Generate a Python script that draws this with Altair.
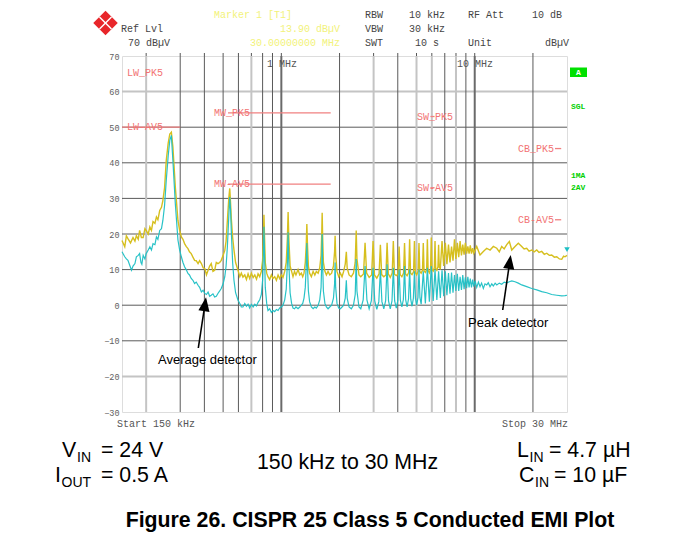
import altair as alt
import pandas as pd

MONO = "Liberation Mono"
SANS = "Liberation Sans"

# ---------------- data ----------------
# peak detector trace (MHz, dBuV)
peak_trace = [
    (0.150, 18.2), (0.155, 16.4), (0.158, 19.5), (0.161, 18.7), (0.166, 17.5), (0.171, 19.0),
    (0.175, 18.0), (0.178, 19.5), (0.182, 18.5), (0.185, 21.0), (0.189, 19.0), (0.193, 19.0),
    (0.197, 21.5), (0.200, 21.0), (0.205, 20.0), (0.209, 22.0), (0.213, 21.0), (0.217, 23.5),
    (0.222, 23.0), (0.226, 24.8), (0.230, 24.0), (0.235, 26.6), (0.240, 27.5), (0.244, 29.4),
    (0.249, 33.0), (0.254, 40.6), (0.260, 45.5), (0.265, 48.1), (0.270, 48.6), (0.275, 44.4),
    (0.283, 33.2), (0.292, 23.8), (0.298, 21.0), (0.304, 19.2), (0.310, 18.5), (0.316, 17.3),
    (0.322, 16.5), (0.329, 15.9), (0.335, 15.0), (0.342, 14.5), (0.349, 13.5), (0.356, 12.6),
    (0.363, 12.5), (0.371, 11.7), (0.378, 12.5), (0.386, 11.7), (0.394, 10.5), (0.402, 10.3),
    (0.410, 8.5), (0.418, 9.8), (0.426, 11.0), (0.434, 11.7), (0.443, 9.5), (0.452, 9.8),
    (0.461, 12.0), (0.470, 11.7), (0.480, 12.0), (0.489, 12.6), (0.500, 14.0), (0.510, 15.4),
    (0.518, 18.0), (0.526, 23.8), (0.535, 30.0), (0.541, 32.8), (0.546, 29.0), (0.551, 24.5),
    (0.560, 19.0), (0.569, 15.5), (0.580, 12.0), (0.597, 9.8), (0.610, 8.0), (0.621, 9.0),
    (0.633, 7.9), (0.647, 8.5), (0.660, 7.2), (0.673, 8.8), (0.686, 7.5), (0.700, 9.0),
    (0.715, 7.8), (0.729, 8.5), (0.744, 7.3), (0.758, 8.8), (0.773, 8.0), (0.788, 9.5),
    (0.800, 12.5), (0.808, 20.0), (0.813, 25.4), (0.818, 20.0), (0.826, 12.0), (0.840, 9.0),
    (0.853, 8.0), (0.870, 7.2), (0.888, 8.5), (0.905, 7.5), (0.924, 8.0), (0.943, 7.0),
    (0.962, 8.5), (0.980, 7.5), (1.000, 8.5), (1.020, 7.8), (1.041, 9.5), (1.060, 12.0),
    (1.075, 19.0), (1.084, 26.2), (1.093, 19.0), (1.110, 11.0), (1.130, 9.5), (1.149, 8.0),
    (1.170, 9.5), (1.190, 8.5), (1.220, 10.0), (1.245, 8.5), (1.269, 9.0), (1.290, 8.0),
    (1.310, 9.0), (1.330, 12.0), (1.345, 17.0), (1.355, 22.8), (1.365, 17.0), (1.380, 11.0),
    (1.400, 9.0), (1.430, 8.0), (1.460, 9.5), (1.490, 8.5), (1.517, 9.5), (1.550, 9.0),
    (1.580, 10.5), (1.605, 14.0), (1.618, 20.0), (1.626, 26.0), (1.634, 20.0), (1.650, 12.0),
    (1.680, 9.5), (1.710, 8.5), (1.744, 9.5), (1.780, 8.5), (1.820, 9.0), (1.860, 11.0),
    (1.885, 15.0), (1.897, 19.5), (1.910, 14.0), (1.940, 9.5), (1.980, 8.0), (2.020, 9.0),
    (2.060, 8.0), (2.100, 9.5), (2.140, 11.5), (2.168, 15.0), (2.190, 10.5), (2.240, 8.5),
    (2.300, 8.0), (2.360, 9.0), (2.410, 12.0), (2.439, 21.0), (2.460, 13.0), (2.520, 8.5),
    (2.575, 8.0),
    (2.660, 8.8), (2.710, 17.5), (2.760, 9.0), (2.845, 7.8),
    (2.931, 8.5), (2.981, 18.0), (3.031, 8.5), (3.116, 7.6),
    (3.202, 8.8), (3.252, 17.0), (3.302, 8.6), (3.387, 8.0),
    (3.473, 8.5), (3.523, 17.5), (3.573, 8.8), (3.658, 7.8),
    (3.744, 9.0), (3.794, 18.0), (3.844, 8.7), (3.930, 8.3),
    (4.015, 8.8), (4.065, 16.5), (4.115, 8.6), (4.200, 8.0),
    (4.286, 9.0), (4.336, 17.5), (4.386, 8.8), (4.470, 8.3),
    (4.557, 9.2), (4.607, 18.5), (4.657, 9.0), (4.740, 8.6),
    (4.828, 9.4), (4.878, 18.0), (4.928, 9.2), (5.010, 8.5),
    (5.099, 9.6), (5.149, 17.5), (5.199, 9.5), (5.285, 9.0),
    (5.370, 9.8), (5.420, 17.5), (5.470, 9.6), (5.555, 9.2),
    (5.641, 10.0), (5.691, 18.5), (5.741, 9.8), (5.826, 9.1),
    (5.912, 10.2), (5.962, 19.0), (6.012, 10.0), (6.100, 9.6),
    (6.183, 10.5), (6.233, 18.0), (6.283, 10.3), (6.370, 9.8),
    (6.454, 10.8), (6.504, 17.0), (6.554, 10.6), (6.640, 10.3),
    (6.775, 18.0), (6.910, 11.0), (7.046, 17.5), (7.180, 11.5), (7.317, 17.0), (7.450, 12.0),
    (7.588, 16.5), (7.720, 12.5), (7.859, 18.5), (7.990, 13.0), (8.130, 17.5), (8.265, 13.5),
    (8.401, 18.0), (8.540, 14.0), (8.672, 17.0), (8.810, 14.2), (8.943, 17.5), (9.080, 14.5),
    (9.214, 16.5), (9.350, 14.5), (9.485, 16.8), (9.620, 14.5), (9.756, 16.0), (9.890, 14.6),
    (10.24, 16.5), (10.65, 14.1), (11.08, 15.1), (11.53, 16.0), (12.00, 15.5), (12.48, 16.5),
    (13.00, 16.0), (13.40, 15.0), (13.79, 16.5), (14.20, 15.8), (14.64, 17.0), (15.10, 17.9),
    (15.54, 15.5), (16.16, 16.5), (16.80, 17.4), (17.50, 16.5), (18.00, 15.8), (18.57, 16.0),
    (19.10, 15.2), (19.71, 15.5), (20.30, 15.0), (20.93, 15.5), (21.50, 14.8), (22.20, 15.1),
    (22.90, 14.3), (23.57, 14.6), (24.30, 14.0), (25.00, 14.1), (25.80, 13.5), (26.55, 13.6),
    (27.40, 13.0), (28.18, 12.9), (28.80, 13.8), (29.30, 13.6), (30.00, 14.0),
]

# average detector trace (MHz, dBuV)
average_trace = [
    (0.150, 15.0), (0.155, 13.6), (0.158, 13.0), (0.161, 12.6), (0.165, 11.0), (0.168, 9.8),
    (0.171, 11.0), (0.175, 11.7), (0.178, 13.6), (0.182, 14.0), (0.185, 14.5), (0.188, 12.0),
    (0.190, 11.5), (0.193, 14.0), (0.197, 13.0), (0.200, 14.5), (0.205, 15.5), (0.209, 16.4),
    (0.213, 15.5), (0.217, 17.3), (0.222, 17.0), (0.226, 19.2), (0.230, 18.5), (0.235, 21.0),
    (0.240, 21.5), (0.244, 23.8), (0.249, 28.0), (0.254, 35.0), (0.260, 42.0), (0.265, 46.3),
    (0.270, 47.7), (0.275, 40.6), (0.283, 28.5), (0.292, 18.3), (0.298, 15.5), (0.304, 13.6),
    (0.310, 12.0), (0.316, 10.8), (0.322, 10.0), (0.329, 8.9), (0.335, 8.5), (0.342, 7.5),
    (0.349, 7.0), (0.356, 6.1), (0.363, 6.5), (0.371, 5.6), (0.378, 5.0), (0.386, 3.7),
    (0.394, 4.2), (0.402, 3.3), (0.410, 3.0), (0.418, 3.7), (0.426, 2.5), (0.434, 2.8),
    (0.443, 3.2), (0.452, 2.3), (0.461, 2.5), (0.470, 3.3), (0.480, 4.0), (0.489, 4.7),
    (0.500, 6.0), (0.510, 8.0), (0.518, 11.0), (0.526, 16.4), (0.535, 25.0), (0.541, 30.4),
    (0.546, 27.0), (0.551, 21.0), (0.560, 12.0), (0.569, 7.0), (0.580, 3.5), (0.597, 1.4),
    (0.610, 0.5), (0.621, -0.5), (0.633, -0.5), (0.647, 0.5), (0.660, -0.3), (0.673, 0.3),
    (0.686, -0.8), (0.700, 0.2), (0.715, -0.5), (0.729, 0.3), (0.744, -0.2), (0.758, 0.8),
    (0.773, 1.5), (0.788, 3.0), (0.800, 7.0), (0.808, 15.0), (0.813, 22.0), (0.818, 15.0),
    (0.826, 5.0), (0.840, 0.5), (0.853, -1.5), (0.870, -1.0), (0.888, -2.0), (0.905, -1.5),
    (0.924, -1.8), (0.943, -1.2), (0.962, -1.5), (0.980, -0.8), (1.000, -0.5), (1.020, 0.0),
    (1.041, 1.5), (1.060, 4.5), (1.075, 12.0), (1.084, 20.5), (1.093, 12.0), (1.110, 3.5),
    (1.130, 0.5), (1.149, -0.8), (1.170, -1.0), (1.190, -0.5), (1.220, -1.0), (1.245, -0.5),
    (1.269, 0.0), (1.290, 0.5), (1.310, 2.0), (1.330, 5.0), (1.345, 11.0), (1.355, 17.5),
    (1.365, 11.0), (1.380, 4.0), (1.400, 1.0), (1.430, -0.5), (1.460, -1.0), (1.490, -0.5),
    (1.517, -0.8), (1.550, 0.0), (1.580, 1.5), (1.605, 5.0), (1.618, 12.0), (1.626, 20.0),
    (1.634, 12.0), (1.650, 4.0), (1.680, 0.5), (1.710, -0.5), (1.744, -1.0), (1.780, -0.5),
    (1.820, 0.0), (1.860, 2.0), (1.885, 6.0), (1.897, 12.0), (1.910, 5.0), (1.940, 0.5),
    (1.980, -0.8), (2.020, -1.0), (2.060, -0.5), (2.100, 0.0), (2.140, 2.0), (2.168, 7.0),
    (2.190, 2.0), (2.240, -0.5), (2.300, -1.0), (2.360, 0.0), (2.410, 3.0), (2.439, 13.0),
    (2.460, 4.0), (2.520, -0.5), (2.575, -1.0),
    (2.650, 1.5), (2.710, 11.0), (2.770, 1.5), (2.845, -1.0),
    (2.921, 1.3), (2.981, 10.5), (3.041, 1.2), (3.116, -1.2),
    (3.192, 1.0), (3.252, 10.0), (3.312, 1.0), (3.387, -1.0),
    (3.463, 1.3), (3.523, 11.5), (3.583, 1.2), (3.658, -1.0),
    (3.734, 1.2), (3.794, 10.5), (3.854, 1.2), (3.930, -0.8),
    (4.005, 1.4), (4.065, 10.0), (4.125, 1.4), (4.200, -0.5),
    (4.276, 1.6), (4.336, 11.0), (4.396, 1.5), (4.470, -0.5),
    (4.547, 1.8), (4.607, 10.0), (4.667, 1.7), (4.740, -0.3),
    (4.818, 2.0), (4.878, 9.5), (4.938, 1.9), (5.010, 0.0),
    (5.089, 2.2), (5.149, 10.0), (5.209, 2.1), (5.285, 0.3),
    (5.420, 9.5), (5.555, 0.5), (5.691, 10.5), (5.826, 1.0),
    (5.962, 11.0), (6.100, 1.2), (6.233, 10.0), (6.370, 1.5), (6.504, 9.5), (6.640, 2.0),
    (6.775, 9.8), (6.910, 2.5), (7.046, 9.5), (7.180, 2.8), (7.317, 9.0), (7.450, 3.2),
    (7.588, 9.2), (7.720, 3.5), (7.859, 8.5), (7.990, 4.0), (8.130, 8.8), (8.265, 4.0),
    (8.401, 8.0), (8.540, 4.3), (8.672, 8.5), (8.810, 4.5), (8.943, 7.8), (9.080, 4.8),
    (9.214, 8.0), (9.350, 5.0), (9.485, 7.5), (9.620, 5.0), (9.756, 7.2), (9.890, 5.2),
    (10.05, 6.8), (10.24, 5.0), (10.45, 6.5), (10.65, 5.2), (10.85, 6.2), (11.08, 4.7),
    (11.30, 6.0), (11.53, 5.7), (11.75, 6.3), (12.00, 5.2), (12.25, 6.0), (12.48, 5.4),
    (12.75, 6.2), (13.00, 5.7), (13.40, 6.2), (13.79, 5.9), (14.20, 6.5), (14.64, 6.3),
    (15.10, 6.6), (15.54, 6.8), (16.16, 6.6), (16.80, 6.2), (17.50, 5.7), (18.57, 5.2),
    (19.71, 4.7), (20.93, 4.3), (22.20, 3.8), (23.57, 3.5), (25.00, 3.0), (26.55, 2.8),
    (28.18, 2.6), (29.30, 2.7), (30.00, 2.8),
]

# CISPR 25 class 5 limit segments: (name, f_start, f_stop, level)
limits = [
    ("LW-AV5", 0.15, 0.30, 50), ("MW_PK5", 0.53, 1.8, 54), ("MW-AV5", 0.53, 1.8, 34),
    ("SW_PK5", 5.9, 6.2, 53), ("SW-AV5", 5.9, 6.2, 33), ("CB_PK5", 26.0, 28.0, 44),
    ("CB-AV5", 26.0, 28.0, 24),
]
# limit labels: (text, f, level)
limit_labels = [
    ("LW_PK5", 0.159, 65.2), ("LW-AV5", 0.159, 50), ("MW_PK5", 0.448, 54), ("MW-AV5", 0.448, 34),
    ("SW_PK5", 5.03, 53), ("SW-AV5", 5.03, 33), ("CB_PK5", 16.75, 44), ("CB-AV5", 16.75, 24),
]

grid_f_dark = [0.3, 0.4, 0.5, 0.6, 0.8, 0.9, 2, 4, 7, 9, 20]
grid_f_light = [0.2, 0.7, 3, 5, 6, 8]
grid_f_major = [1, 10]
grid_db_dark = [50, 40, 30, 20, 10, 0, -10]
grid_db_light = [60, -20]
y_ticks = [70, 60, 50, 40, 30, 20, 10, 0, -10, -20, -30]
marker_point = [(30.0, 15.6)]

# ---------------- chart ----------------
OX, OY = 122, 56  # page position of plot origin
xs = alt.Scale(type="log", domain=[0.15, 30], nice=False, zero=False)
ys = alt.Scale(domain=[-30, 70], nice=False, zero=False)
yaxis = alt.Axis(values=y_ticks, labelFont=MONO, labelFontSize=8.5, labelColor="#606060",
                 ticks=False, domain=False, grid=False, labelPadding=3, title=None)
X = alt.X("f:Q", scale=xs, axis=None)
Y = alt.Y("db:Q", scale=ys, axis=yaxis)

one = pd.DataFrame({"k": [0]})


def T(text, x, y, size=10, font=MONO, color="#444444", align="left", weight="normal"):
    return alt.Chart(one).mark_text(text=text, fontSize=size, font=font, color=color, align=align,
                                    baseline="middle", fontWeight=weight).encode(
        x=alt.value(x - OX), y=alt.value(y - OY))


def R(x1, y1, x2, y2, color="black", w=1.0):
    return alt.Chart(one).mark_rule(color=color, strokeWidth=w).encode(
        x=alt.value(x1 - OX), y=alt.value(y1 - OY), x2=alt.value(x2 - OX), y2=alt.value(y2 - OY))


def vgrid(vals, color, w):
    return alt.Chart(pd.DataFrame({"f": vals})).mark_rule(color=color, strokeWidth=w).encode(x=X)


def hgrid(vals, color, w):
    return alt.Chart(pd.DataFrame({"db": vals})).mark_rule(color=color, strokeWidth=w).encode(
        y=Y, x=alt.value(0), x2=alt.value(445))


all_f = grid_f_dark + grid_f_light + grid_f_major
top_ticks = alt.Chart(pd.DataFrame({"f": all_f})).mark_rule(color="#555555", strokeWidth=1).encode(
    x=X, y=alt.value(-3), y2=alt.value(0))

layers = [
    hgrid(grid_db_light, "#c4c4c4", 2),
    hgrid(grid_db_dark, "#5a5a5a", 1),
    vgrid(grid_f_light, "#c4c4c4", 2),
    vgrid(grid_f_dark, "#5a5a5a", 1),
    vgrid(grid_f_major, "#6a6a6a", 2),
    top_ticks,
]

lim_df = pd.DataFrame(limits, columns=["name", "f", "f2", "db"])
layers.append(alt.Chart(lim_df).mark_rule(color="#f08080", strokeWidth=1.3).encode(
    x=X, x2="f2:Q", y=Y))
lab_df = pd.DataFrame(limit_labels, columns=["t", "f", "db"])
layers.append(alt.Chart(lab_df).mark_text(font=MONO, fontSize=10, color="#f27373", align="left",
                                          baseline="middle").encode(x=X, y=Y, text="t:N"))

pk_df = pd.DataFrame(peak_trace, columns=["f", "db"])
av_df = pd.DataFrame(average_trace, columns=["f", "db"])
layers.append(alt.Chart(pk_df).mark_line(color="#d6bf1e", strokeWidth=1.4).encode(x=X, y=Y))
layers.append(alt.Chart(av_df).mark_line(color="#1cbfc4", strokeWidth=1.2, opacity=0.95).encode(x=X, y=Y))
mk_df = pd.DataFrame(marker_point, columns=["f", "db"])
layers.append(alt.Chart(mk_df).mark_point(shape="triangle-down", filled=True, color="#1cbfc4",
                                          size=30, opacity=1).encode(x=X, y=Y))

# in-plot frequency labels
layers += [T("1 MHz", 267, 64, color="#555555"), T("10 MHz", 457, 64, color="#555555")]

# arrows
head = "M0,-1L0.8,1L-0.8,1Z"
layers += [
    R(198.3, 348, 205, 304, "black", 1.6),
    alt.Chart(one).mark_point(shape=head, filled=True, color="black", size=196, angle=8.6, opacity=1)
    .encode(x=alt.value(205 - OX), y=alt.value(304.2 - OY)),
    T("Average detector", 158, 360, size=13, font=SANS, color="black"),
    R(502.7, 310, 509.7, 262, "black", 1.6),
    alt.Chart(one).mark_point(shape=head, filled=True, color="black", size=196, angle=8.3, opacity=1)
    .encode(x=alt.value(509.7 - OX), y=alt.value(261.9 - OY)),
    T("Peak detector", 468, 323, size=13, font=SANS, color="black"),
]

# header
Y1, Y2, Y3 = 15, 29, 43
layers += [
    T("Marker 1 [T1]", 214, Y1, color="#f2f27a"),
    T("13.90 dBµV", 340, Y2, color="#f2f27a", align="right"),
    T("30.00000000 MHz", 340, Y3, color="#f2f27a", align="right"),
    T("RBW", 365, Y1), T("10 kHz", 409, Y1), T("RF Att", 468, Y1), T("10 dB", 562, Y1, align="right"),
    T("Ref Lvl", 121, Y2), T("VBW", 365, Y2), T("30 kHz", 409, Y2),
    T("70 dBµV", 128, Y3), T("SWT", 365, Y3), T("10 s", 415, Y3), T("Unit", 468, Y3),
    T("dBµV", 569, Y3, align="right"),
]
# R&S logo
layers += [
    alt.Chart(one).mark_point(shape="diamond", filled=True, color="#e8262a", size=600, opacity=1)
    .encode(x=alt.value(105.5 - OX), y=alt.value(23 - OY)),
    R(99.5, 17, 111.5, 29, "white", 1.5),
    R(111.5, 17, 99.5, 29, "white", 1.5),
]
# right side status
layers += [
    alt.Chart(one).mark_rect(color="#00e000").encode(
        x=alt.value(570 - OX), x2=alt.value(587 - OX), y=alt.value(67.5 - OY), y2=alt.value(77 - OY)),
    T("A", 578.5, 72.5, size=8, color="white", align="center", weight="bold"),
    T("SGL", 571, 107, size=8, color="#00d000", weight="bold"),
    T("1MA", 571, 176, size=8, color="#00d000", weight="bold"),
    T("2AV", 571, 188, size=8, color="#00d000", weight="bold"),
]
# bottom axis texts
layers += [
    T("Start 150 kHz", 117, 424, color="#555555"),
    T("Stop 30 MHz", 568, 424, color="#555555", align="right"),
]
# page frame
layers += [R(0, 0.5, 673, 0.5, "black", 1.5), R(0.75, 0, 0.75, 544, "black", 1.5)]

# conditions text
BIG = 21.3
SUB = 14
K = "black"
layers += [
    T("V", 62, 451, size=BIG, font=SANS, color=K),
    T("IN", 77, 458, size=SUB, font=SANS, color=K),
    T("= 24 V", 101, 451, size=BIG, font=SANS, color=K),
    T("I", 55, 476, size=BIG, font=SANS, color=K),
    T("OUT", 61.5, 483, size=SUB, font=SANS, color=K),
    T("= 0.5 A", 101, 476, size=BIG, font=SANS, color=K),
    T("150 kHz to 30 MHz", 347.5, 463, size=BIG, font=SANS, color=K, align="center"),
    T("L", 517, 451, size=BIG, font=SANS, color=K),
    T("IN", 529.5, 458, size=SUB, font=SANS, color=K),
    T("= 4.7 µH", 549, 451, size=BIG, font=SANS, color=K),
    T("C", 519, 476, size=BIG, font=SANS, color=K),
    T("IN", 535, 483, size=SUB, font=SANS, color=K),
    T("= 10 µF", 554, 476, size=BIG, font=SANS, color=K),
    T("Figure 26. CISPR 25 Class 5 Conducted EMI Plot", 370, 521, size=21.3, font=SANS,
      color=K, align="center", weight="bold"),
]

chart = alt.layer(*layers).properties(
    width=445, height=356,
    autosize=alt.AutoSizeParams(type="none"),
    padding={"left": 114, "top": 48, "right": 98, "bottom": 124},
).configure_view(stroke="#6e6e6e", strokeWidth=2).configure(background="white")

chart.save("out.html", embed_options={"renderer": "svg", "actions": False})
